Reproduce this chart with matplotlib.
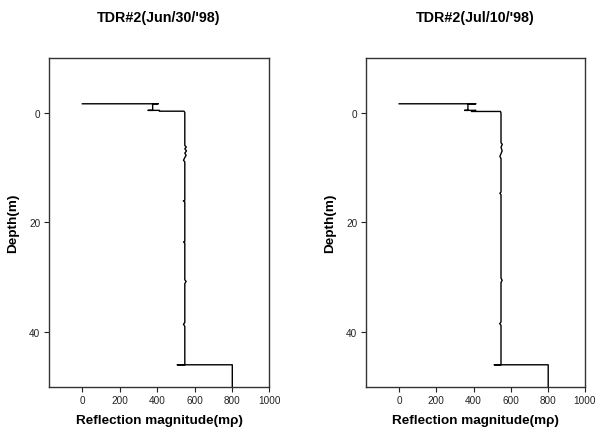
import matplotlib
matplotlib.use("Agg")
import matplotlib.pyplot as plt

plt.rcParams['font.family'] = ['Liberation Sans', 'DejaVu Sans']

titles = ["TDR#2(Jun/30/'98)", "TDR#2(Jul/10/'98)"]

# magnitude (m rho) and depth (m) of each trace
mag_jun = [0, 405, 376, 376, 352, 412, 412, 544, 548, 548, 556, 548, 557, 548, 555, 548,
           541, 548, 548, 540, 548, 548, 541, 548, 548, 555, 548, 548, 541, 548, 548,
           508, 802, 802]
dep_jun = [-1.6, -1.6, -1.6, -0.4, -0.4, -0.4, -0.25, -0.25, 0.0, 6.0, 6.3, 6.6, 7.0, 7.4,
           7.8, 8.2, 8.7, 9.0, 16.0, 16.1, 16.3, 23.5, 23.6, 23.8, 30.5, 30.8, 31.2,
           38.3, 38.6, 39.0, 46.0, 46.0, 46.0, 50.0]

mag_jul = [0, 412, 370, 370, 352, 412, 389, 545, 548, 548, 555, 548, 554, 548, 542, 548,
           548, 542, 548, 548, 554, 548, 548, 541, 548, 548, 512, 802, 802]
dep_jul = [-1.6, -1.6, -1.6, -0.4, -0.4, -0.4, -0.2, -0.2, 0.1, 5.5, 5.8, 6.3, 7.0, 7.5,
           8.0, 8.4, 14.5, 14.7, 15.0, 30.2, 30.6, 31.0, 38.2, 38.5, 38.8, 46.0, 46.0,
           46.0, 50.0]

x_ticks = [0, 200, 400, 600, 800, 1000]
y_ticks = [0, 20, 40]

fig = plt.figure(figsize=(5.97, 4.35), dpi=100)
positions = [[0.0816, 0.1087, 0.3695, 0.7563], [0.6126, 0.1087, 0.3673, 0.7563]]
series = [(mag_jun, dep_jun), (mag_jul, dep_jul)]

for pos, (m, d), title in zip(positions, series, titles):
    ax = fig.add_axes(pos)
    ax.plot(m, d, color='black', lw=1.0)
    ax.set_xlim(-180, 1000)
    ax.set_ylim(50, -10)
    ax.set_xticks(x_ticks)
    ax.set_yticks(y_ticks)
    ax.tick_params(axis='both', labelsize=7.2, length=3.6, width=0.8, pad=2.5,
                   colors='#222222', labelcolor='#222222')
    for s in ax.spines.values():
        s.set_color('#333333')
        s.set_linewidth(1.0)
    ax.set_xlabel('Reflection magnitude(m\u03c1)', fontsize=9.7, fontweight='bold', labelpad=6)
    ax.set_ylabel('Depth(m)', fontsize=9.7, fontweight='bold', labelpad=7)
    ax.text(0.5, 1.125, title, transform=ax.transAxes, ha='center', va='center',
            fontsize=10.3, fontweight='bold')

fig.savefig('out.png', dpi=100)
